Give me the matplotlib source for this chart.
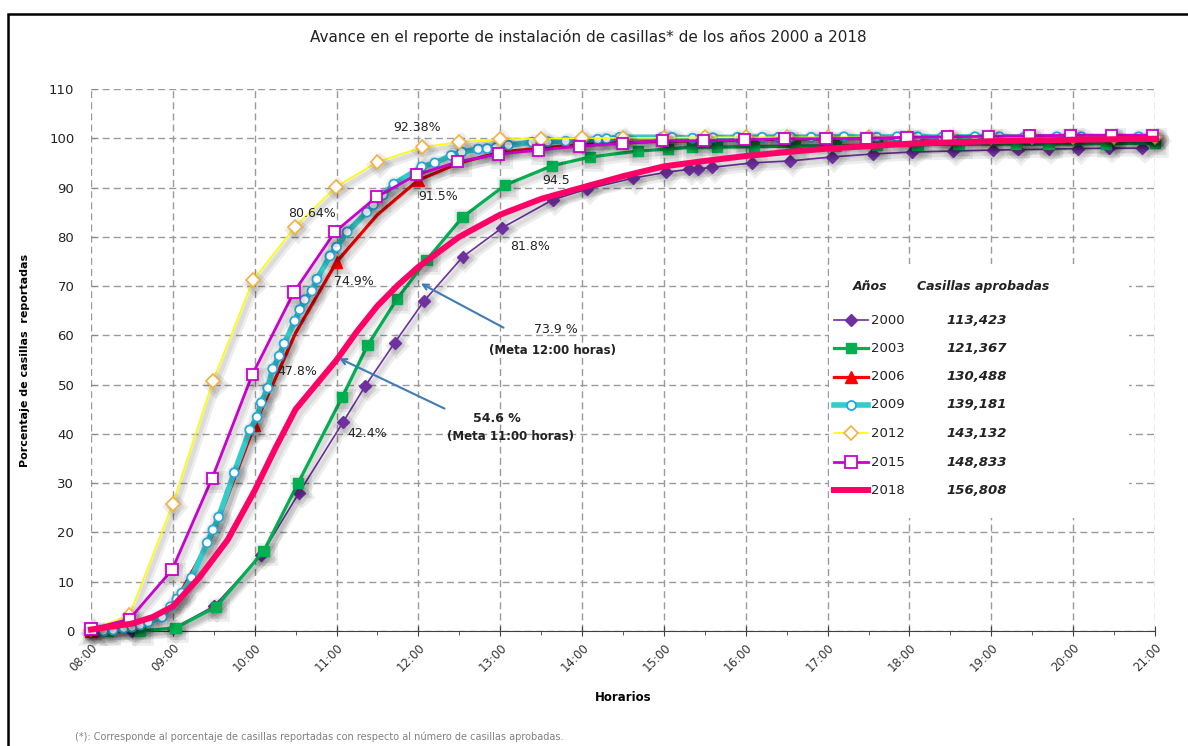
import matplotlib
matplotlib.use("Agg")
import matplotlib.pyplot as plt
import matplotlib.patheffects as pe
from matplotlib.lines import Line2D
from matplotlib.patches import Rectangle

# Data (hours as decimal, percent of casillas reported)
h2000 = [8.0, 8.5, 9.0, 9.5, 10.08, 10.54, 11.08, 11.35, 11.71, 12.07, 12.54, 13.02, 13.64,
         14.06, 14.62, 15.03, 15.31, 15.42, 15.59, 16.08, 16.54, 17.05, 17.55, 18.03, 18.53,
         19.02, 19.33, 19.70, 20.06, 20.44, 20.84]
v2000 = [0.0, 0.0, 0.5, 5.0, 15.4, 28.0, 42.4, 49.7, 58.5, 67.0, 75.9, 81.8, 87.5,
         89.7, 91.9, 93.1, 93.7, 93.8, 94.1, 95.0, 95.4, 96.2, 96.8, 97.2, 97.4,
         97.6, 97.7, 97.8, 97.9, 98.0, 98.0]

h2003 = [8.2, 8.6, 9.03, 9.53, 10.11, 10.53, 11.07, 11.38, 11.74, 12.1, 12.54, 13.06, 13.63,
         14.10, 14.68, 15.05, 15.34, 15.65, 16.1, 16.6, 17.1, 17.6, 18.1, 18.6, 19.3, 19.7,
         20.4, 21.0]
v2003 = [0.0, 0.0, 0.6, 4.9, 16.2, 30.0, 47.5, 58.0, 67.4, 75.3, 84.0, 90.5, 94.4,
         96.2, 97.4, 97.8, 98.2, 98.2, 98.3, 98.4, 98.5, 98.6, 98.7, 98.8, 98.8, 98.8,
         98.9, 99.0]

h2006 = [8.0, 8.5, 9.0, 9.5, 10.0, 10.5, 11.0, 11.5, 12.0, 12.5, 13.0, 14.0, 15.0, 16.0,
         17.0, 18.0, 19.0, 20.0, 21.0]
v2006 = [0.0, 0.8, 5.0, 20.0, 41.8, 60.5, 74.9, 84.5, 91.5, 95.0, 97.2, 98.8, 99.4, 99.7,
         99.9, 100.0, 100.0, 100.0, 100.0]

h2009 = [8.0, 8.15, 8.27, 8.4, 8.5, 8.6, 8.7, 8.87, 8.97, 9.05, 9.11, 9.23, 9.42, 9.49, 9.56,
         9.75, 9.94, 10.03, 10.08, 10.16, 10.22, 10.30, 10.36, 10.49, 10.55, 10.61, 10.70,
         10.76, 10.92, 11.0, 11.13, 11.37, 11.45, 11.57, 11.70, 12.04, 12.2, 12.4, 12.53,
         12.73, 12.84, 12.95, 13.1, 13.39, 13.58, 13.8, 14.0, 14.19, 14.3, 14.46, 14.98,
         15.1, 15.35, 15.6, 15.9, 16.2, 16.4, 16.55, 16.8, 17.2, 17.6, 17.85, 18.1, 18.4,
         18.8, 19.1, 19.4, 19.8, 20.1, 20.5, 20.8, 21.0]
v2009 = [0.3, 0.0, 0.2, 0.6, 0.8, 1.2, 1.8, 2.8, 4.9, 6.5, 7.7, 10.8, 17.9, 20.5, 23.1,
         32.1, 40.8, 43.4, 46.3, 49.3, 53.2, 55.8, 58.3, 62.9, 65.2, 67.2, 69.0,
         71.4, 76.1, 77.9, 81.0, 85.0, 86.5, 88.5, 90.7, 94.2, 95.0, 96.5, 97.2,
         97.8, 97.9, 98.1, 98.6, 99.2, 99.3, 99.4, 99.6, 99.8, 99.9, 100.2, 100.2,
         100.2, 100.0, 100.1, 100.2, 100.2, 100.2, 100.2, 100.2, 100.3, 100.2, 100.3, 100.3, 100.2,
         100.3, 100.3, 100.2, 100.3, 100.3, 100.3, 100.3, 100.3]

h2012 = [8.0, 8.47, 9.0, 9.49, 9.98, 10.49, 10.99, 11.5, 12.05, 12.5, 13.0, 13.5, 14.0,
         14.5, 15.0, 15.5, 16.0, 16.5, 17.0, 17.5, 18.0, 18.5, 19.0, 19.5, 20.0, 20.5, 21.0]
v2012 = [0.3, 3.2, 25.8, 50.7, 71.2, 82.0, 90.1, 95.2, 98.2, 99.2, 99.8, 99.9, 100.0,
         100.1, 100.1, 100.2, 100.2, 100.2, 100.2, 100.2, 100.2, 100.2, 100.2, 100.2, 100.2, 100.2, 100.2]

h2015 = [8.0, 8.47, 8.99, 9.48, 9.97, 10.48, 10.98, 11.49, 11.98, 12.48, 12.98, 13.47, 13.97,
         14.49, 14.98, 15.48, 15.98, 16.47, 16.98, 17.48, 17.97, 18.47, 18.97, 19.47, 19.97,
         20.47, 20.97]
v2015 = [0.4, 2.4, 12.4, 31.0, 52.0, 68.8, 81.0, 88.1, 92.6, 95.2, 96.8, 97.6, 98.4,
         99.0, 99.5, 99.5, 99.7, 99.9, 99.9, 100.0, 100.2, 100.3, 100.4, 100.5, 100.6,
         100.6, 100.6]

h2018 = [8.0, 8.5, 8.75, 9.0, 9.33, 9.67, 10.0, 10.25, 10.5, 10.75, 11.0, 11.25, 11.5, 11.75,
         12.0, 12.5, 13.0, 13.5, 14.0, 14.5, 15.0, 15.5, 16.0, 16.5, 17.0, 18.0, 19.0, 20.0, 21.0]
v2018 = [0.3, 1.5, 2.8, 5.0, 11.0, 18.5, 28.5, 37.0, 45.0, 50.0, 55.0, 60.8, 66.0, 70.2,
         73.9, 80.0, 84.5, 87.7, 90.0, 92.3, 94.3, 95.4, 96.4, 97.2, 97.9, 98.9, 99.4, 99.7, 99.9]

years = ["2000", "2003", "2006", "2009", "2012", "2015", "2018"]
casillas = ["113,423", "121,367", "130,488", "139,181", "143,132", "148,833", "156,808"]

point_labels = ["92.38%", "80.64%", "91.5%", "74.9%", "47.8%", "42.4%", "81.8%", "94.5"]
label_pos = [(11.98, 102.1), (10.70, 84.8), (12.24, 88.1), (11.21, 71.0),
             (10.52, 52.6), (11.38, 40.0), (13.36, 78.1), (13.68, 91.5)]

W, H = 1188, 746
fig = plt.figure(figsize=(W / 100, H / 100), dpi=100)
ax = fig.add_axes([91 / W, 1 - 631 / H, (1155 - 91) / W, (631 - 89) / H])

def shadow(lw):
    # soft grey drop shadow like the spreadsheet original
    return [pe.SimpleLineShadow(offset=(2, -2.5), shadow_color="k", alpha=0.07, linewidth=lw + 6),
            pe.SimpleLineShadow(offset=(2, -2.5), shadow_color="k", alpha=0.07, linewidth=lw + 2),
            pe.Normal()]

styles = {
    "2000": dict(color="#7030A0", lw=1.2, marker="D", ms=6, mfc="#7030A0", mec="#7030A0"),
    "2003": dict(color="#00B050", lw=2.3, marker="s", ms=7.5, mfc="#00B050", mec="#00B050"),
    "2006": dict(color="#FF0000", lw=2.3, marker="^", ms=8, mfc="#FF0000", mec="#FF0000"),
    "2009": dict(color="#33CCCC", lw=4.0, marker="o", ms=6.5, mfc="white", mec="#22A8E0", mew=1.3),
    "2012": dict(color="#FFFF00", lw=1.2, marker="D", ms=7, mfc="white", mec="#F5B041", mew=1.2),
    "2015": dict(color="#CC00CC", lw=2.0, marker="s", ms=8, mfc="white", mec="#CC00CC", mew=1.3),
    "2018": dict(color="#FF0066", lw=4.3),
}

series = {"2000": (h2000, v2000), "2003": (h2003, v2003), "2006": (h2006, v2006),
          "2009": (h2009, v2009), "2012": (h2012, v2012), "2015": (h2015, v2015),
          "2018": (h2018, v2018)}

for z, y in enumerate(years):
    hx, vy = series[y]
    st = dict(styles[y])
    extra = {}
    if y == "2006":
        extra["markevery"] = [0, 4, 6, 8]
    ax.plot(hx, vy, zorder=3 + z, clip_on=False,
            path_effects=shadow(st["lw"]), **st, **extra)

ax.set_xlim(8, 21)
ax.set_ylim(0, 110)
ax.set_xticks(range(8, 22))
ax.set_xticklabels([f"{h:02d}:00" for h in range(8, 22)], rotation=45, ha="right",
                   rotation_mode="anchor", fontsize=8.5, color="#333333")
ax.set_xticks([h + 0.5 for h in range(8, 21)], minor=True)
ax.set_yticks(range(0, 111, 10))
ax.tick_params(axis="y", labelsize=9.5, direction="in", length=4, color="#888888",
               labelcolor="#222222", pad=12)
ax.tick_params(axis="x", which="major", direction="inout", length=7, color="#404040", pad=4)
ax.tick_params(axis="x", which="minor", direction="out", length=3, color="#404040")
for s in ["left", "top", "right"]:
    ax.spines[s].set_visible(False)
ax.spines["bottom"].set_color("#404040")
ax.spines["bottom"].set_zorder(2)
ax.grid(True, which="major", color="#9A9A9A", linestyle=(0, (5, 3)), linewidth=1.0)
ax.set_axisbelow(True)

ax.set_xlabel("Horarios", fontsize=8.5, fontweight="bold", labelpad=12)
ax.set_ylabel("Porcentaje de casillas  reportadas", fontsize=8, fontweight="bold", labelpad=14)
fig.text(588 / W, 1 - 37 / H, "Avance en el reporte de instalación de casillas* de los años 2000 a 2018",
         ha="center", va="center", fontsize=11, color="#222222")
fig.text(75 / W, 1 - 737 / H,
         "(*): Corresponde al porcentaje de casillas reportadas con respecto al número de casillas aprobadas.",
         ha="left", va="center", fontsize=7, color="#808080")

for txt, (px, py) in zip(point_labels, label_pos):
    ax.text(px, py, txt, ha="center", va="center", fontsize=9, color="#222222", zorder=20)

# goal annotations
ax.annotate("", xy=(12.0, 70.8), xytext=(13.07, 61.3),
            arrowprops=dict(arrowstyle="->", color="#3E7CB8", lw=1.5), zorder=20)
ax.annotate("", xy=(11.0, 55.6), xytext=(12.35, 44.9),
            arrowprops=dict(arrowstyle="->", color="#3E7CB8", lw=1.5), zorder=20)
ax.text(13.68, 61.1, "73.9 %", ha="center", va="center", fontsize=9, color="#222222")
ax.text(13.64, 57.0, "(Meta 12:00 horas)", ha="center", va="center", fontsize=8.5,
        fontweight="bold", color="#222222")
ax.text(12.96, 43.2, "54.6 %", ha="center", va="center", fontsize=9, fontweight="bold",
        color="#222222")
ax.text(13.12, 39.4, "(Meta 11:00 horas)", ha="center", va="center", fontsize=8.5,
        fontweight="bold", color="#222222")

# legend box
fig.add_artist(Rectangle((829 / W, 1 - 518 / H), 300 / W, 254 / H, transform=fig.transFigure,
                         facecolor="white", edgecolor="none", zorder=2))
fig.text(870 / W, 1 - 287 / H, "Años", ha="center", va="center", fontsize=9,
         fontweight="bold", style="italic", color="#222222", zorder=5)
fig.text(983 / W, 1 - 287 / H, "Casillas aprobadas", ha="center", va="center", fontsize=9,
         fontweight="bold", style="italic", color="#222222", zorder=5)
row_y = [320, 348, 377, 405, 433, 462, 490]
for y, c, ry in zip(years, casillas, row_y):
    st = dict(styles[y])
    fy = 1 - ry / H
    ln = Line2D([834 / W, 851 / W, 868 / W], [fy, fy, fy], transform=fig.transFigure,
                zorder=5, markevery=[1], **st)
    fig.add_artist(ln)
    fig.text(871 / W, fy, y, ha="left", va="center", fontsize=9.5, color="#222222", zorder=5)
    fig.text(946 / W, fy, c, ha="left", va="center", fontsize=9.5, fontweight="bold",
             style="italic", color="#222222", zorder=5)

# outer frame
fig.add_artist(Rectangle((8 / W, -0.05), 1.1, 1 - 14 / H + 0.05, transform=fig.transFigure,
                         fill=False, edgecolor="black", lw=1.8, clip_on=False))

fig.savefig("out.png", dpi=100)
